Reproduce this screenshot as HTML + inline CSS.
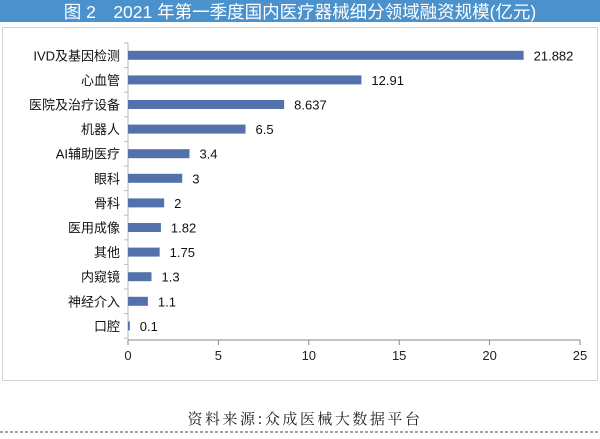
<!DOCTYPE html>
<html><head><meta charset="utf-8"><style>
body{margin:0;width:600px;height:434px;background:#fff;overflow:hidden;font-family:"Liberation Sans","Noto Sans CJK SC",sans-serif;}
</style></head><body>
<svg width="600" height="434" xmlns="http://www.w3.org/2000/svg">
<rect x="0" y="0" width="600" height="22" fill="#4b92cc"/>
<text x="300" y="18" text-anchor="middle" font-size="17.5" fill="#fff" font-family="Liberation Sans,Noto Sans CJK SC,sans-serif">图 2　2021 年第一季度国内医疗器械细分领域融资规模(亿元)</text>
<rect x="2.5" y="27.5" width="595" height="353" fill="#fff" stroke="#d4d4d4"/>
<g id="plot"></g>
<text x="305" y="424" text-anchor="middle" font-size="15" fill="#222" letter-spacing="2.5" font-family="Noto Serif CJK SC,serif">资料来源:众成医械大数据平台</text>
<line x1="0" y1="432" x2="600" y2="432" stroke="#444" stroke-dasharray="3,2"/>
</svg>
<script>
const categories=["IVD及基因检测","心血管","医院及治疗设备","机器人","AI辅助医疗","眼科","骨科","医用成像","其他","内窥镜","神经介入","口腔"];
const values=[21.882,12.91,8.637,6.5,3.4,3,2,1.82,1.75,1.3,1.1,0.1];
const valueLabels=["21.882","12.91","8.637","6.5","3.4","3","2","1.82","1.75","1.3","1.1","0.1"];
const xTicks=[0,5,10,15,20,25];
const NS="http://www.w3.org/2000/svg";
const g=document.getElementById("plot");
const x0=128,x1=580,xMax=25,yTop=43,step=24.6,axisY=340;
const xs=v=>x0+(x1-x0)*v/xMax;
const yc=i=>yTop+step*(i+0.5);
function mk(t,a){const e=document.createElementNS(NS,t);for(const k in a)e.setAttribute(k,a[k]);g.appendChild(e);return e;}
let ax=mk("line",{x1:x0,y1:yTop,x2:x0,y2:axisY,stroke:"#bbb"});


let bx=mk("line",{x1:x0,y1:axisY,x2:x1,y2:axisY,stroke:"#888"});


for(let i=0;i<=categories.length;i++){
 let t=mk("line",{x1:x0-4,y1:yTop+step*i,x2:x0,y2:yTop+step*i,stroke:"#bbb"});
 
 
}
xTicks.forEach(v=>{
 let t=mk("line",{x1:xs(v),y1:axisY,x2:xs(v),y2:axisY+5,stroke:"#888"});
 
 
 let l=mk("text",{x:xs(v),y:axisY+20,"text-anchor":"middle","font-size":"13",fill:"#222"});
 l.textContent=v;
 
 
});
categories.forEach((c,i)=>{
 const y=yc(i);
 let r=mk("rect",{x:x0,y:y-4.5,width:Math.max(1,xs(values[i])-x0),height:9,fill:"#5372ac"});
 
 
 let l=mk("text",{x:x0-8,y:y+5,"text-anchor":"end","font-size":"13",fill:"#111"});
 l.textContent=c;
 
 
 let v=mk("text",{x:xs(values[i])+10,y:y+5,"font-size":"13",fill:"#111"});
 v.textContent=valueLabels[i];
 
 
});
</script>
</body></html>
